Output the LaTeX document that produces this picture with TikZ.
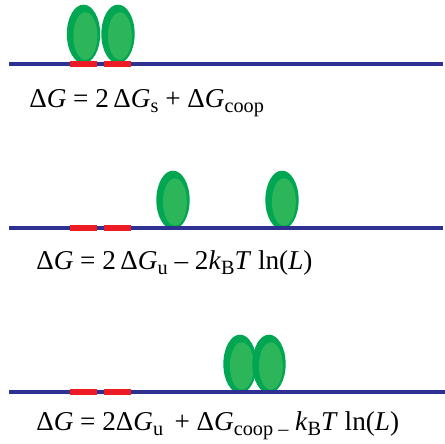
\documentclass[tikz,border=0pt]{standalone}
\usepackage{fontspec}
\setmainfont{Liberation Serif}
\usetikzlibrary{shapes.geometric}

\definecolor{dnablue}{HTML}{2E3192}
\definecolor{sitered}{HTML}{ED1C24}
\definecolor{protdark}{HTML}{00A651}
\definecolor{protlight}{HTML}{2DB55A}

\newcommand{\dG}{Δ\textit{G}}
\newcommand{\lowsub}[1]{\raisebox{-4.4pt}{\fontsize{15.2}{16}\selectfont #1}}

\begin{document}
\begin{tikzpicture}[x=0.75pt,y=-0.75pt]
  \tikzset{
    dna/.style={draw=dnablue, line width=2.6pt},
    site/.style={draw=sitered, line width=4.5pt},
    protein/.style={ellipse, fill=protdark, inner sep=0pt,
      minimum width=25pt, minimum height=44pt,
      path picture={\fill[protlight]
        ([xshift=1.4pt,yshift=-1.5pt]path picture bounding box.center)
        ellipse (9pt and 17.8pt);}},
    eqn/.style={anchor=base west, inner sep=0pt,
      font=\fontsize{20.4}{23}\selectfont},
  }
  \useasboundingbox (0,0) rectangle (445,443);

  % bound at the sites, cooperative
  \node[protein] (p1a) at (83.5,34) {};
  \node[protein] (p1b) at (118,34) {};
  \draw[dna] (9,64) -- (443,64);
  \draw[site] (70,64) -- (97,64);
  \draw[site] (104,64) -- (131,64);
  \node[eqn] (eq1) at (29,107)
    {\dG{} = 2\,\dG\lowsub{s} + \dG\lowsub{coop}};

  % two unbound proteins elsewhere on the strand
  \node[protein] (p2a) at (173,200) {};
  \node[protein] (p2b) at (282,200) {};
  \draw[dna] (9,228) -- (443,228);
  \draw[site] (70,228) -- (97,228);
  \draw[site] (104,228) -- (131,228);
  \node[eqn] (eq2) at (36,269)
    {\dG{} = 2\,\dG\lowsub{u} – 2\textit{k}\lowsub{B}\textit{T} ln(\textit{L})};

  % pair off the sites
  \node[protein] (p3a) at (240,364) {};
  \node[protein] (p3b) at (269,364) {};
  \draw[dna] (9,392) -- (445,392);
  \draw[site] (70,392) -- (97,392);
  \draw[site] (104,392) -- (131,392);
  \node[eqn] (eq3) at (36,430)
    {\dG{} = 2\dG\lowsub{u} \,+ \dG\lowsub{coop –} \textit{k}\lowsub{B}\textit{T} ln(\textit{L})};
\end{tikzpicture}
\end{document}
